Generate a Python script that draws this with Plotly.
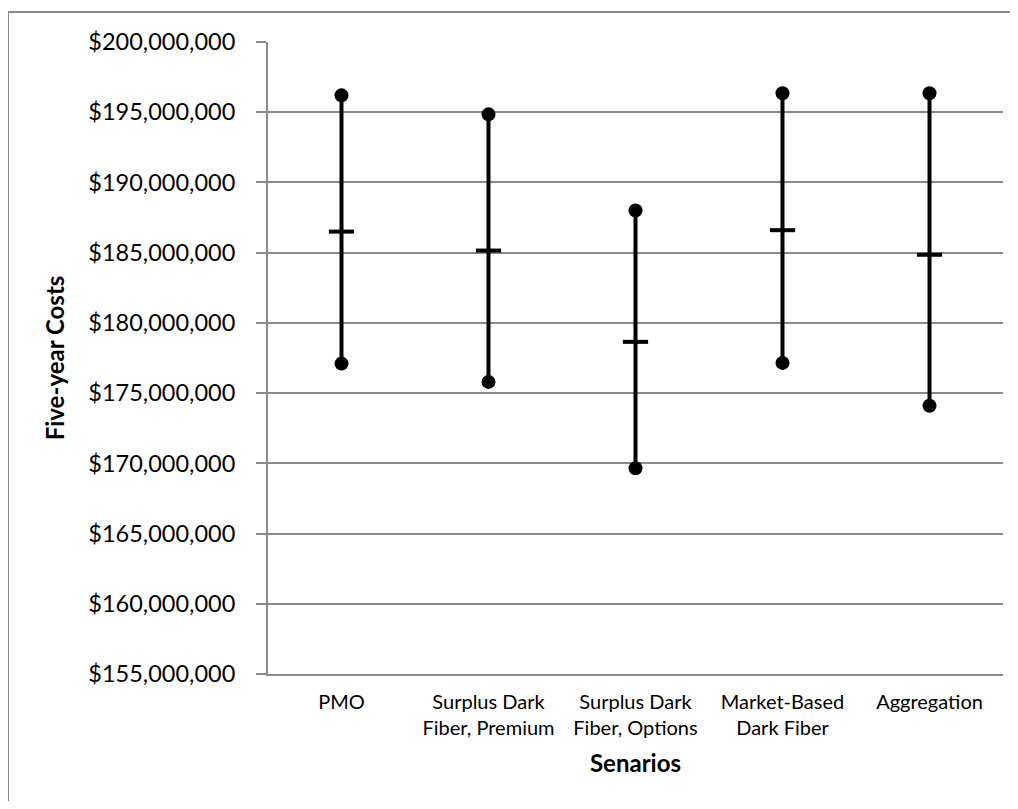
import plotly.graph_objects as go

categories = ["PMO", "Surplus Dark<br>Fiber, Premium", "Surplus Dark<br>Fiber, Options",
              "Market-Based<br>Dark Fiber", "Aggregation"]
high_vals = [196.2e6, 194.85e6, 188.0e6, 196.35e6, 196.35e6]
low_vals = [177.1e6, 175.8e6, 169.65e6, 177.15e6, 174.1e6]
mid_vals = [186.5e6, 185.15e6, 178.65e6, 186.6e6, 184.85e6]
y_ticks = [155e6, 160e6, 165e6, 170e6, 175e6, 180e6, 185e6, 190e6, 195e6, 200e6]
y_tick_labels = [f"${v:,.0f}" for v in y_ticks]

FONT = "Lato"
GRAY = "#8a8a8a"

line_x, line_y = [], []
for c, lo, hi in zip(categories, low_vals, high_vals):
    line_x += [c, c, None]
    line_y += [lo, hi, None]

fig = go.Figure()
fig.add_trace(go.Scatter(x=line_x, y=line_y, mode="lines",
                         line=dict(color="black", width=4), hoverinfo="skip",
                         showlegend=False))
fig.add_trace(go.Scatter(x=categories, y=high_vals, mode="markers",
                         marker=dict(color="black", size=14, symbol="circle"),
                         showlegend=False))
fig.add_trace(go.Scatter(x=categories, y=low_vals, mode="markers",
                         marker=dict(color="black", size=14, symbol="circle"),
                         showlegend=False))
fig.add_trace(go.Scatter(x=categories, y=mid_vals, mode="markers",
                         marker=dict(color="black", size=18, symbol="line-ew",
                                     line=dict(color="black", width=4)),
                         showlegend=False))

W, H = 1010, 793
L, R, T, B = 260, 15, 34, 127
pw = W - L - R
ph = H - T - B

# outer chart border: only left and top edges are within the picture
bx0 = (0 - L) / pw
by1 = (H - B - 4) / ph
fig.add_shape(type="line", xref="paper", yref="paper",
              x0=bx0, x1=bx0, y0=by1, y1=-1.0,
              line=dict(color=GRAY, width=2), layer="below")
fig.add_shape(type="line", xref="paper", yref="paper",
              x0=bx0, x1=1.5, y0=by1, y1=by1,
              line=dict(color=GRAY, width=2), layer="below")

fig.update_layout(
    width=W, height=H,
    margin=dict(l=L, r=R, t=T, b=B),
    paper_bgcolor="white", plot_bgcolor="white",
    font=dict(family=FONT, color="black"),
    showlegend=False,
)
fig.update_xaxes(
    type="category", categoryorder="array", categoryarray=categories,
    range=[-0.5, 4.5], automargin=False,
    showgrid=False, showline=True, linecolor=GRAY, linewidth=2,
    ticks="", tickfont=dict(size=20, family=FONT), ticklabelstandoff=9,
    title=dict(text="<b>Senarios</b>", font=dict(size=24, family=FONT), standoff=17),
)
fig.update_yaxes(
    range=[155e6, 200e6], tickvals=y_ticks, ticktext=y_tick_labels,
    automargin=False,
    showgrid=True, gridcolor=GRAY, gridwidth=1.5,
    showline=True, linecolor=GRAY, linewidth=2,
    ticks="outside", ticklen=10, tickcolor=GRAY, tickwidth=2,
    tickfont=dict(size=23.5, family=FONT), ticklabelstandoff=16,
    zeroline=False,
    title=dict(text="<b>Five-year Costs</b>", font=dict(size=24, family=FONT), standoff=17),
)

fig.write_html("out.html")
